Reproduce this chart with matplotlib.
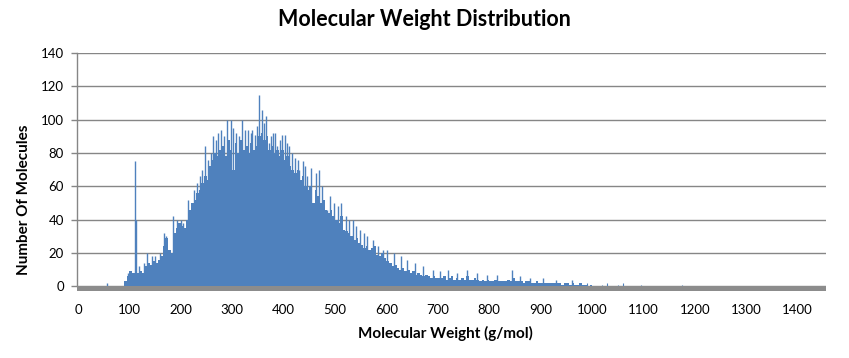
import matplotlib
matplotlib.use("Agg")
import matplotlib.pyplot as plt

# ---- data ----
bin_start = 85
bin_width = 5
counts = [
    0, 3, 6, 9, 8, 8, 8, 9, 8, 12,          # 85-130
    14, 13, 15, 14, 16, 18, 24, 29, 22, 20,  # 135-180
    32, 35, 38, 36, 35, 40, 46, 50, 52, 56,  # 185-230
    58, 62, 66, 64, 72, 76, 80, 78, 82, 84,  # 235-280
    78, 88, 82, 70, 86, 80, 88, 82, 84, 80,  # 285-330
    86, 82, 84, 90, 92, 88, 90, 82, 84, 80,  # 335-380
    82, 78, 82, 76, 78, 72, 70, 68, 70, 64,  # 385-430
    66, 60, 58, 60, 50, 58, 54, 50, 52, 46,  # 435-480
    44, 46, 42, 40, 38, 42, 34, 33, 32, 30,  # 485-530
    28, 29, 26, 25, 23, 24, 22, 23, 24, 19,  # 535-580
    18, 20, 17, 15, 14, 12, 13, 11, 10, 11,  # 585-630
    9, 10, 8, 9, 7, 8, 7, 6, 7, 6,           # 635-680
    5, 6, 5, 5, 5, 6, 4, 5, 6, 4,            # 685-730
    5, 4, 5, 4, 6, 4, 4, 5, 4, 3,            # 735-780
    4, 3, 4, 3, 3, 4, 3, 3, 3, 3,            # 785-830
    4, 3, 5, 3, 3, 3, 2, 3, 3, 2,            # 835-880
    2, 3, 2, 2, 2, 2, 2, 2, 2, 2,            # 885-930
    2, 1, 2, 2, 1, 2, 1, 1, 2, 1,            # 935-980
    1, 0, 1,                                 # 985-995
]
spike_mw = [56, 98, 110, 113, 118, 128, 134, 143, 150, 160, 168, 172,
            185, 193, 200, 205, 214, 225, 232, 238, 242, 247, 253, 258,
            262, 268, 272, 279, 284, 290, 297, 302, 307, 313, 318, 325,
            331, 336, 339, 344, 348, 353, 357, 361, 366, 372, 376, 380,
            384, 388, 392, 396, 403, 407, 411, 417, 423, 427, 430, 437,
            441, 446, 453, 462, 468, 474, 485, 491, 497, 505, 512, 521,
            527, 535, 541, 548, 556, 563, 574, 583, 593, 602, 615, 628,
            640, 655, 672, 690, 705, 720, 738, 757, 776, 795, 815, 844,
            860, 880, 905, 930, 960]
spike_counts = [2, 8, 75, 40, 12, 14, 20, 18, 18, 20, 32, 30,
                42, 40, 40, 38, 52, 58, 62, 66, 70, 84, 76, 80,
                90, 88, 92, 94, 90, 100, 100, 95, 92, 90, 100, 94,
                94, 92, 94, 91, 96, 115, 106, 98, 102, 86, 90, 92,
                92, 84, 88, 91, 91, 86, 84, 80, 77, 76, 70, 75,
                72, 66, 71, 68, 70, 60, 46, 54, 50, 48, 50, 42,
                40, 40, 36, 34, 32, 30, 28, 24, 22, 22, 20, 18,
                16, 14, 12, 10, 9, 10, 8, 10, 8, 7, 7, 10,
                6, 5, 5, 4, 4]
tail_mw = [990, 1019, 1029, 1051, 1060, 1095, 1175]
tail_counts = [2, 1, 2, 1, 2, 1, 1]

y_ticks = [0, 20, 40, 60, 80, 100, 120, 140]
x_ticks = [0, 100, 200, 300, 400, 500, 600, 700, 800, 900, 1000, 1100,
           1200, 1300, 1400]

title = "Molecular Weight Distribution"
x_label = "Molecular Weight (g/mol)"
y_label = "Number Of Molecules"

# ---- style ----
bar_color = "#4F81BD"
grid_color = "#868686"
floor_color = "#8C8C8C"
font = ["Lato", "DejaVu Sans"]
plt.rcParams["font.family"] = font

W, H = 849, 358
fig = plt.figure(figsize=(W / 100, H / 100), dpi=100)
left, right, top, bottom = 77, 826, 53, 290.5
ax = fig.add_axes([left / W, 1 - bottom / H, (right - left) / W, (bottom - top) / H])

bins = [bin_start + i * bin_width for i in range(len(counts))]
ax.bar(bins, counts, width=bin_width, align="edge", color=bar_color,
       linewidth=0, zorder=3)
ax.vlines(spike_mw, 0, spike_counts, color=bar_color, linewidth=1.0, zorder=3)
ax.vlines(tail_mw, 0, tail_counts, color=bar_color, linewidth=0.8, zorder=3)

ax.set_xlim(-2, 1455)
ax.set_ylim(-2.6, 140)

# floor band
ax.axhspan(-2.6, 0, color=floor_color, zorder=4, linewidth=0)

for y in y_ticks:
    ax.axhline(y, color=grid_color, linewidth=1.0, zorder=1)

for s in ["top", "right", "bottom"]:
    ax.spines[s].set_visible(False)
ax.spines["left"].set_color(grid_color)
ax.spines["left"].set_linewidth(1.0)
ax.spines["left"].set_bounds(0, 140)

ax.set_yticks(y_ticks)
ax.set_yticklabels([str(v) for v in y_ticks])
ax.set_xticks(x_ticks)
ax.set_xticklabels([str(v) for v in x_ticks])
ax.tick_params(axis="y", length=4.5, width=1.0, color=grid_color, pad=5,
               labelsize=9.5, labelcolor="#000000")
ax.tick_params(axis="x", length=0, pad=10, labelsize=9.5, labelcolor="#000000")

fig.text(0.5, 1 - 20 / H, title, ha="center", va="center",
         fontsize=15.5, fontweight="bold")
fig.text(445 / W, 1 - 333 / H, x_label, ha="center", va="center",
         fontsize=11, fontweight="bold")
fig.text(24 / W, 1 - 200 / H, y_label, ha="center", va="center",
         rotation=90, fontsize=11, fontweight="bold")

fig.savefig("out.png", dpi=100)
